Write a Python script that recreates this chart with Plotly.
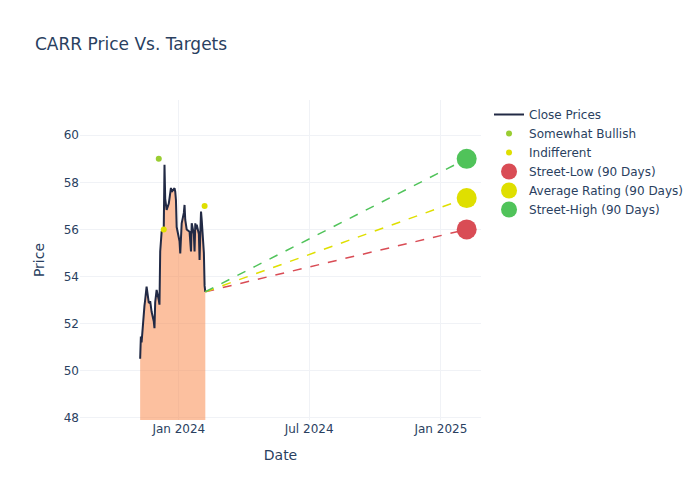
import pandas as pd
import plotly.graph_objects as go

# ---- data ----
holidays = ["2023-11-23", "2023-12-25", "2024-01-01", "2024-01-15"]
dates = [d for d in pd.bdate_range("2023-11-08", "2024-02-07") if d.strftime("%Y-%m-%d") not in holidays]

close_prices = [
    50.5, 51.45, 51.2, 52.7, 52.75, 53.0, 53.35, 53.57, 52.9, 52.88,
    52.95, 52.5, 52.1, 51.8, 52.9, 53.2, 53.43, 53.0, 52.8, 55.06,
    55.5, 55.9, 56.1, 58.75, 57.3, 57.0, 56.83, 57.1, 57.32, 57.5,
    57.76, 57.6, 57.75, 57.6, 57.25, 56.1, 55.5, 54.98, 55.6, 56.26,
    56.7, 57.04, 56.4, 56.0, 56.0, 55.9, 55.5, 55.06, 56.26, 55.8,
    55.06, 56.26, 56.0, 56.2, 55.8, 54.7, 55.8, 56.76, 56.4, 55.0,
    53.6, 53.35,
]

bullish_dates = ["2023-12-04"]
bullish_values = [59]
indifferent_dates = ["2023-12-11", "2024-02-06"]
indifferent_values = [56, 57]

target_date = "2025-02-06"
street_low = 56.0
street_avg = 57.33
street_high = 59.0

x_range = ["2023-08-16", "2025-02-26"]
y_range = [47.9, 61.5]

# ---- figure ----
fig = go.Figure()

fig.add_trace(go.Scatter(
    x=dates, y=close_prices, mode="lines", fill="tozeroy",
    fillcolor="rgba(249,130,64,0.5)", line=dict(width=0),
    showlegend=False, hoverinfo="skip",
))
fig.add_trace(go.Scatter(
    x=dates, y=close_prices, mode="lines", name="Close Prices",
    line=dict(color="#222a45", width=2),
))

last_date = dates[-1]
last_close = close_prices[-1]
for val, col in [(street_low, "#d94c55"), (street_avg, "#dfdf00"), (street_high, "#50c35a")]:
    fig.add_trace(go.Scatter(
        x=[last_date, target_date], y=[last_close, val], mode="lines",
        line=dict(color=col, width=1.5, dash="dash"), showlegend=False,
    ))

fig.add_trace(go.Scatter(
    x=bullish_dates, y=bullish_values, mode="markers", name="Somewhat Bullish",
    marker=dict(color="#9acd32", size=6),
))
fig.add_trace(go.Scatter(
    x=indifferent_dates, y=indifferent_values, mode="markers", name="Indifferent",
    marker=dict(color="#dfdf00", size=6),
))

fig.add_trace(go.Scatter(
    x=[target_date], y=[street_low], mode="markers", name="Street-Low (90 Days)",
    marker=dict(color="#d94c55", size=20),
))
fig.add_trace(go.Scatter(
    x=[target_date], y=[street_avg], mode="markers", name="Average Rating (90 Days)",
    marker=dict(color="#dfdf00", size=20),
))
fig.add_trace(go.Scatter(
    x=[target_date], y=[street_high], mode="markers", name="Street-High (90 Days)",
    marker=dict(color="#50c35a", size=20),
))

fig.update_layout(
    template="plotly_white",
    width=700, height=500,
    font=dict(family="DejaVu Sans"),
    title=dict(text="CARR Price Vs. Targets"),
    margin=dict(l=80, t=100, b=80),
    xaxis=dict(title="Date", range=x_range, dtick="M6", tick0="2024-01-01",
               tickformat="%b %Y", gridcolor="#f0f2f6"),
    yaxis=dict(title="Price", range=y_range, dtick=2, gridcolor="#f0f2f6"),
)

fig.write_html("out.html", config={"displayModeBar": False},
               post_script="document.body.style.margin='0';")
